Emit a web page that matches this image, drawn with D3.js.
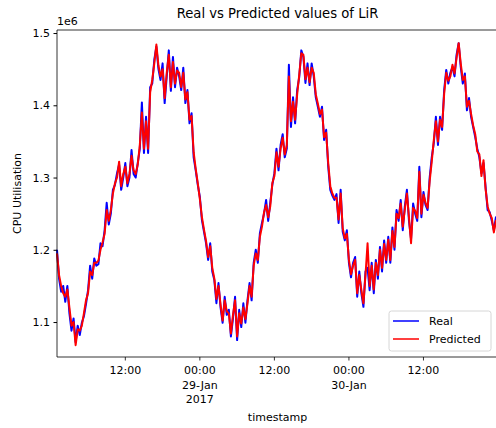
<!DOCTYPE html>
<html>
<head>
<meta charset="utf-8">
<script src="https://cdn.jsdelivr.net/npm/d3@7"></script>
<style>
  body { margin: 0; background: #fff; }
  svg { font-family: "DejaVu Sans", sans-serif; }
</style>
</head>
<body>
<svg id="chart" width="496" height="428"></svg>
<script>
// values in units of 1e6, one reading every 20 minutes from 2017-01-28 01:00
let startTime = Date.UTC(2017, 0, 28, 1, 0);
let stepMinutes = 20;

let real = [
  1.200,1.160,1.142,1.150,1.128,1.150,1.112,1.088,1.105,1.072,
  1.095,1.082,1.099,1.108,1.125,1.144,1.178,1.160,1.188,1.178,
  1.180,1.209,1.205,1.227,1.265,1.235,1.250,1.283,1.290,1.306,
  1.318,1.283,1.300,1.320,1.288,1.300,1.338,1.305,1.300,1.320,
  1.340,1.404,1.334,1.384,1.334,1.425,1.430,1.463,1.481,1.450,
  1.435,1.458,1.403,1.440,1.476,1.420,1.467,1.425,1.452,1.440,
  1.421,1.452,1.403,1.421,1.375,1.389,1.328,1.310,1.290,1.273,
  1.241,1.225,1.209,1.186,1.209,1.170,1.158,1.126,1.154,1.120,
  1.099,1.135,1.110,1.117,1.080,1.105,1.135,1.075,1.117,1.093,
  1.126,1.099,1.130,1.154,1.130,1.182,1.200,1.182,1.223,1.237,
  1.250,1.269,1.240,1.265,1.290,1.306,1.340,1.310,1.345,1.360,
  1.328,1.340,1.456,1.370,1.411,1.375,1.421,1.439,1.476,1.467,
  1.431,1.458,1.428,1.458,1.440,1.411,1.398,1.384,1.398,1.352,
  1.366,1.315,1.283,1.275,1.269,1.277,1.237,1.283,1.225,1.213,
  1.227,1.182,1.162,1.182,1.190,1.135,1.170,1.140,1.121,1.170,
  1.175,1.144,1.182,1.140,1.186,1.160,1.204,1.170,1.213,1.182,
  1.218,1.182,1.231,1.200,1.255,1.240,1.269,1.227,1.260,1.283,
  1.240,1.215,1.264,1.250,1.240,1.315,1.245,1.280,1.262,1.255,
  1.300,1.328,1.348,1.384,1.345,1.384,1.366,1.421,1.449,1.430,
  1.445,1.453,1.440,1.470,1.486,1.453,1.430,1.444,1.393,1.410,
  1.384,1.370,1.356,1.340,1.328,1.306,1.320,1.287,1.255,1.252,
  1.240,1.227,1.245,1.235
];

let predicted = [
  1.195,1.165,1.150,1.140,1.135,1.145,1.120,1.095,1.100,1.068,
  1.090,1.088,1.095,1.112,1.130,1.140,1.170,1.165,1.182,1.182,
  1.185,1.200,1.210,1.222,1.255,1.240,1.255,1.278,1.292,1.300,
  1.322,1.288,1.305,1.315,1.292,1.305,1.330,1.310,1.305,1.318,
  1.345,1.390,1.340,1.378,1.340,1.418,1.435,1.458,1.484,1.455,
  1.440,1.450,1.410,1.445,1.470,1.425,1.460,1.430,1.448,1.445,
  1.425,1.445,1.408,1.418,1.380,1.385,1.335,1.312,1.292,1.270,
  1.245,1.228,1.212,1.190,1.205,1.175,1.160,1.132,1.150,1.124,
  1.102,1.130,1.115,1.112,1.084,1.110,1.130,1.080,1.112,1.098,
  1.120,1.104,1.126,1.150,1.135,1.178,1.195,1.186,1.218,1.232,
  1.252,1.262,1.245,1.260,1.292,1.302,1.335,1.315,1.340,1.355,
  1.332,1.345,1.440,1.378,1.405,1.380,1.415,1.442,1.472,1.470,
  1.436,1.452,1.432,1.452,1.445,1.415,1.402,1.388,1.394,1.356,
  1.362,1.320,1.288,1.278,1.272,1.272,1.242,1.278,1.230,1.216,
  1.222,1.186,1.166,1.178,1.186,1.140,1.165,1.145,1.126,1.165,
  1.209,1.150,1.178,1.145,1.182,1.165,1.200,1.175,1.208,1.186,
  1.214,1.186,1.226,1.204,1.250,1.244,1.264,1.232,1.256,1.278,
  1.245,1.209,1.258,1.254,1.244,1.308,1.250,1.276,1.265,1.258,
  1.295,1.322,1.352,1.378,1.350,1.380,1.370,1.416,1.445,1.434,
  1.440,1.456,1.444,1.466,1.486,1.458,1.435,1.440,1.398,1.406,
  1.388,1.372,1.360,1.336,1.332,1.302,1.324,1.284,1.260,1.250,
  1.244,1.224,1.240,1.232
];

let yTicks = [1.1, 1.2, 1.3, 1.4, 1.5];
let xTickLabels = [["12:00"], ["00:00", "29-Jan", "2017"], ["12:00"], ["00:00", "30-Jan"], ["12:00"]];
let seriesNames = ["Real", "Predicted"];
let seriesColors = ["#0000ff", "#ff0000"];

function makeChart() {
    let left = 57, right = 498, top = 30, bottom = 357;
    let svg = d3.select("#chart");

    let times = real.map((v, i) => new Date(startTime + i * stepMinutes * 60000));

    let x = d3.scaleUtc()
        .domain([times[0], times[times.length - 1]])
        .range([left, right]);
    let y = d3.scaleLinear()
        .domain([1.0516, 1.5042])
        .range([bottom, top]);

    let line = d3.line()
        .x((d, i) => x(times[i]))
        .y(d => y(d));

    [real, predicted].forEach((s, k) => {
        svg.append("path")
            .datum(s)
            .attr("d", line)
            .attr("fill", "none")
            .attr("stroke", seriesColors[k])
            .attr("stroke-width", 2)
            .attr("stroke-linejoin", "round");
    });

    // spines
    svg.append("line").attr("x1", left).attr("x2", left).attr("y1", top).attr("y2", bottom)
        .attr("stroke", "#000").attr("stroke-width", 0.8);
    svg.append("line").attr("x1", left).attr("x2", right).attr("y1", bottom).attr("y2", bottom)
        .attr("stroke", "#000").attr("stroke-width", 0.8);
    svg.append("line").attr("x1", left).attr("x2", right).attr("y1", top).attr("y2", top)
        .attr("stroke", "#000").attr("stroke-width", 0.8);

    // y axis
    let yAxis = d3.axisLeft(y)
        .tickValues(yTicks)
        .tickFormat(d3.format(".1f"))
        .tickSize(3.5)
        .tickPadding(3.5);
    let gy = svg.append("g").attr("transform", `translate(${left},0)`).call(yAxis);
    gy.select(".domain").remove();
    gy.selectAll("text").attr("font-size", 11).attr("fill", "#000")
        .attr("font-family", "DejaVu Sans");

    // x axis
    let xTicks = x.ticks(d3.utcHour.every(12)).filter(t => t < times[times.length - 1]);
    let gx = svg.append("g").attr("transform", `translate(0,${bottom})`);
    let tick = gx.selectAll("g").data(xTicks).enter().append("g")
        .attr("transform", d => `translate(${x(d)},0)`);
    tick.append("line").attr("y2", 3.5).attr("stroke", "#000").attr("stroke-width", 0.8);
    tick.append("text")
        .attr("text-anchor", "middle")
        .attr("font-size", 11)
        .selectAll("tspan")
        .data((d, i) => xTickLabels[i])
        .enter().append("tspan")
        .attr("x", 0)
        .attr("y", (d, j) => 17 + j * 14.5)
        .text(d => d);

    // labels
    svg.append("text").attr("x", (left + right) / 2).attr("y", 18)
        .attr("text-anchor", "middle").attr("font-size", 13.2)
        .text("Real vs Predicted values of LiR");
    svg.append("text").attr("x", left).attr("y", 25).attr("font-size", 11).text("1e6");
    svg.append("text").attr("x", (left + right) / 2).attr("y", 421)
        .attr("text-anchor", "middle").attr("font-size", 11).text("timestamp");
    svg.append("text")
        .attr("transform", `translate(21,${(top + bottom) / 2}) rotate(-90)`)
        .attr("text-anchor", "middle").attr("font-size", 11).text("CPU Utilisation");

    // legend
    let lg = svg.append("g").attr("transform", "translate(389,311)");
    lg.append("rect").attr("width", 102).attr("height", 40).attr("rx", 2.5)
        .attr("fill", "#fff").attr("fill-opacity", 0.8)
        .attr("stroke", "#cccccc").attr("stroke-width", 0.8);
    seriesNames.forEach((n, k) => {
        let yy = 10 + k * 18;
        lg.append("line").attr("x1", 4).attr("x2", 30).attr("y1", yy).attr("y2", yy)
            .attr("stroke", seriesColors[k]).attr("stroke-width", 1.5);
        lg.append("text").attr("x", 40).attr("y", yy + 4).attr("font-size", 11).text(n);
    });
}

window.onload = function() {
    makeChart();
}
</script>
</body>
</html>
